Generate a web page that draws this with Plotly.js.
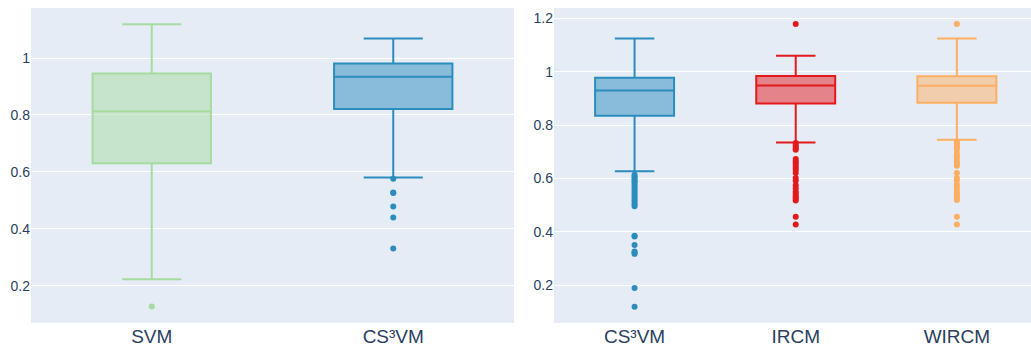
<!DOCTYPE html>
<html>
<head>
<meta charset="utf-8">
<script src="https://cdn.plot.ly/plotly-3.0.1.min.js"></script>
<style>
  html, body { margin: 0; padding: 0; background: #fff; }
  #chart { width: 1031px; height: 352px; }
</style>
</head>
<body>
<div id="chart"></div>
<script>
// Left panel: SVM vs CS³VM
const leftNames = ['SVM', 'CS³VM'];
const leftColors = ['#a6dba0', '#2b8cbe'];
const leftLower = [0.223, 0.580];
const leftQ1 = [0.630, 0.821];
const leftMedian = [0.813, 0.934];
const leftQ3 = [0.946, 0.981];
const leftUpper = [1.119, 1.069];
const leftOutliers = [
  [0.127],
  [0.576, 0.528, 0.526, 0.478, 0.440, 0.331]
];

// Right panel: CS³VM vs IRCM vs WIRCM
const rightNames = ['CS³VM', 'IRCM', 'WIRCM'];
const rightColors = ['#2b8cbe', '#e31a1c', '#fdae61'];
const rightLower = [0.627, 0.735, 0.745];
const rightQ1 = [0.835, 0.881, 0.884];
const rightMedian = [0.930, 0.949, 0.948];
const rightQ3 = [0.978, 0.984, 0.983];
const rightUpper = [1.125, 1.060, 1.125];
const rightOutliers = [
  [0.614, 0.608, 0.602, 0.596, 0.590, 0.584, 0.576, 0.568, 0.560, 0.552, 0.544,
   0.536, 0.528, 0.520, 0.512, 0.504, 0.496, 0.386, 0.383, 0.351, 0.327, 0.322,
   0.318, 0.190, 0.120],
  [1.179, 0.733, 0.726, 0.720, 0.714, 0.708, 0.673, 0.665, 0.657, 0.648, 0.640,
   0.632, 0.621, 0.602, 0.592, 0.575, 0.564, 0.552, 0.545, 0.537, 0.530, 0.524,
   0.518, 0.457, 0.428],
  [1.179, 0.739, 0.732, 0.724, 0.716, 0.708, 0.693, 0.684, 0.675, 0.664, 0.656,
   0.648, 0.621, 0.602, 0.593, 0.578, 0.570, 0.558, 0.548, 0.540, 0.532, 0.526,
   0.520, 0.457, 0.428]
];

const yRangeLeft = [0.069, 1.176];
const yRangeRight = [0.059, 1.239];

function hexToRgba(hex, a) {
  const n = parseInt(hex.slice(1), 16);
  return 'rgba(' + ((n >> 16) & 255) + ',' + ((n >> 8) & 255) + ',' + (n & 255) + ',' + a + ')';
}

function boxTrace(name, color, lo, q1, med, q3, hi, pts, xa, ya, w) {
  return {
    type: 'box',
    name: name,
    x: [name],
    y: [pts],
    q1: [q1], median: [med], q3: [q3],
    lowerfence: [lo], upperfence: [hi],
    boxpoints: 'outliers',
    width: w,
    whiskerwidth: 0.5,
    line: { color: color, width: 2 },
    fillcolor: hexToRgba(color, 0.5),
    marker: { color: color, size: 6 },
    xaxis: xa, yaxis: ya,
    showlegend: false,
    hoverinfo: 'skip'
  };
}

const traces = [];
leftNames.forEach((n, i) => traces.push(boxTrace(n, leftColors[i], leftLower[i], leftQ1[i],
  leftMedian[i], leftQ3[i], leftUpper[i], leftOutliers[i], 'x', 'y', 0.49)));
rightNames.forEach((n, i) => traces.push(boxTrace(n, rightColors[i], rightLower[i], rightQ1[i],
  rightMedian[i], rightQ3[i], rightUpper[i], rightOutliers[i], 'x2', 'y2', 0.49)));

const axisFont = { family: 'Liberation Sans, Arial, sans-serif', color: '#2a3f5f' };

const layout = {
  width: 1031, height: 352,
  margin: { l: 0, r: 0, t: 8, b: 29 },
  paper_bgcolor: '#ffffff',
  plot_bgcolor: '#E5ECF6',
  font: { family: 'Liberation Sans, Arial, sans-serif', color: '#2a3f5f', size: 14 },
  boxmode: 'overlay',
  showlegend: false,
  xaxis: {
    domain: [31 / 1031, 514 / 1031], anchor: 'y', type: 'category',
    range: [-0.5, 1.5],
    showgrid: false, zeroline: false, showline: false, ticks: '',
    tickfont: Object.assign({ size: 19 }, axisFont), automargin: false
  },
  yaxis: {
    domain: [0, 1], anchor: 'x', range: yRangeLeft, dtick: 0.2,
    gridcolor: '#ffffff', gridwidth: 1, zeroline: false, showline: false, ticks: '',
    tickfont: Object.assign({ size: 14 }, axisFont), automargin: false
  },
  xaxis2: {
    domain: [554 / 1031, 1], anchor: 'y2', type: 'category',
    range: [-0.5, 2.46],
    showgrid: false, zeroline: false, showline: false, ticks: '',
    tickfont: Object.assign({ size: 19 }, axisFont), automargin: false
  },
  yaxis2: {
    domain: [0, 1], anchor: 'x2', range: yRangeRight, dtick: 0.2,
    gridcolor: '#ffffff', gridwidth: 1, zeroline: false, showline: false, ticks: '',
    tickfont: Object.assign({ size: 14 }, axisFont), automargin: false
  }
};

Plotly.newPlot('chart', traces, layout, { staticPlot: true, displayModeBar: false });
</script>
</body>
</html>
